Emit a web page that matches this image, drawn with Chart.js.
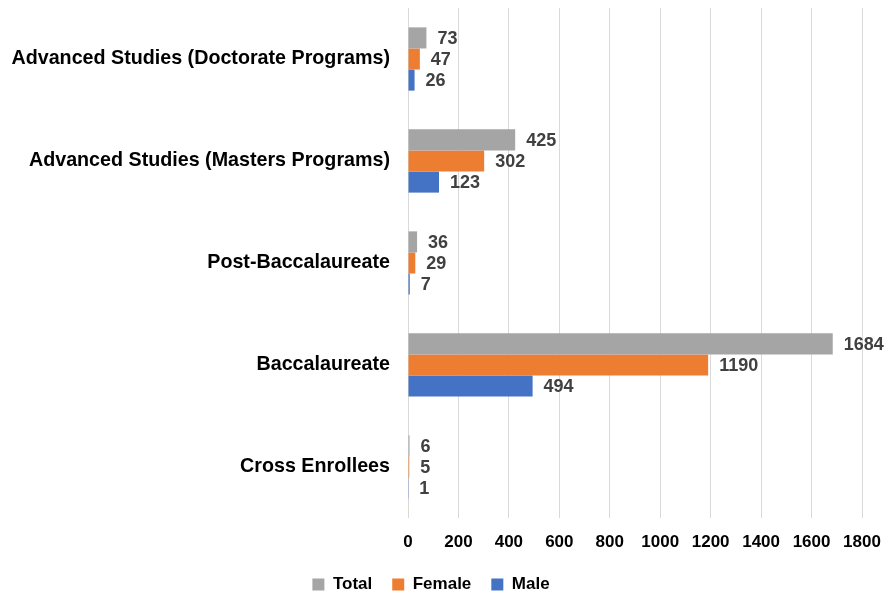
<!DOCTYPE html>
<html>
<head>
<meta charset="utf-8">
<script src="https://cdn.jsdelivr.net/npm/chart.js@4.4.1/dist/chart.umd.min.js"></script>
<style>
  html, body { margin: 0; padding: 0; background: #fff; }
  #wrap { width: 885px; height: 596px; }
</style>
</head>
<body>
<div id="wrap"><canvas id="chart"></canvas></div>
<script>
// enrollment by program level
const categories = [
  'Advanced Studies (Doctorate Programs)',
  'Advanced Studies (Masters Programs)',
  'Post-Baccalaureate',
  'Baccalaureate',
  'Cross Enrollees'
];
const totalValues = [73, 425, 36, 1684, 6];
const femaleValues = [47, 302, 29, 1190, 5];
const maleValues = [26, 123, 7, 494, 1];
const xTicks = [0, 200, 400, 600, 800, 1000, 1200, 1400, 1600, 1800];

const FONT = '"Liberation Sans", Arial, sans-serif';

// draws the value next to the end of each bar
const barValues = {
  id: 'barValues',
  afterDatasetsDraw(chart) {
    const ctx = chart.ctx;
    ctx.save();
    ctx.font = 'bold 18px ' + FONT;
    ctx.fillStyle = '#404040';
    ctx.textAlign = 'left';
    ctx.textBaseline = 'middle';
    chart.data.datasets.forEach((ds, i) => {
      chart.getDatasetMeta(i).data.forEach((bar, j) => {
        ctx.fillText(ds.data[j], bar.x + 11, bar.y + 1);
      });
    });
    ctx.restore();
  }
};

new Chart(document.getElementById('chart'), {
  type: 'bar',
  data: {
    labels: categories,
    datasets: [{
      label: 'Total',
      data: totalValues,
      backgroundColor: '#A5A5A5'
    }, {
      label: 'Female',
      data: femaleValues,
      backgroundColor: '#ED7D31'
    }, {
      label: 'Male',
      data: maleValues,
      backgroundColor: '#4472C4'
    }]
  },
  options: {
    indexAxis: 'y',
    responsive: true,
    maintainAspectRatio: false,
    animation: false,
    categoryPercentage: 0.62,
    barPercentage: 1.0,
    layout: { padding: { top: 8, right: 23, left: 0, bottom: 0 } },
    plugins: {
      tooltip: { enabled: false },
      legend: {
        position: 'bottom',
        maxHeight: 40,
        labels: {
          boxWidth: 12,
          boxHeight: 12,
          padding: 20,
          color: '#000',
          font: { family: FONT, size: 17, weight: 'bold' }
        }
      }
    },
    scales: {
      x: {
        min: 0,
        max: 1800,
        afterBuildTicks: s => { s.ticks = xTicks.map(v => ({ value: v })); },
        grid: { color: '#D9D9D9', lineWidth: 1, drawTicks: true, tickLength: 11, tickColor: 'rgba(0,0,0,0)' },
        border: { display: false },
        ticks: {
          padding: 4,
          maxRotation: 0,
          minRotation: 0,
          autoSkip: false,
          callback: v => String(v),
          color: '#000',
          font: { family: FONT, size: 17, weight: 'bold', lineHeight: 1.12 }
        }
      },
      y: {
        afterFit: s => { s.width = 408; },
        grid: { display: false, drawTicks: true, tickLength: 18 },
        border: { display: false },
        ticks: {
          padding: 0,
          color: '#000',
          font: { family: FONT, size: 19.7, weight: 'bold', lineHeight: 0.8 }
        }
      }
    }
  },
  plugins: [barValues]
});
</script>
</body>
</html>
